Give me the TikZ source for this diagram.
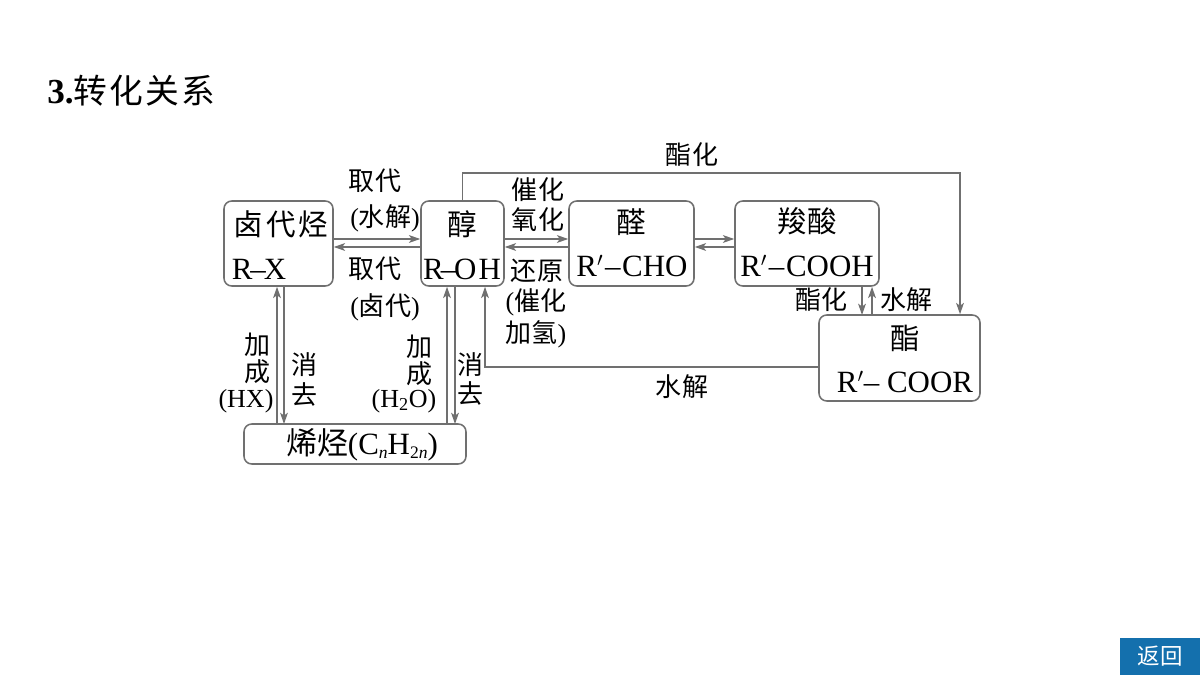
\documentclass[tikz,border=0pt]{standalone}
\usepackage{fontspec}
\usepackage{xcolor}
\setmainfont{Liberation Serif}
\newfontfamily\cjk{Noto Sans CJK SC}
\usetikzlibrary{arrows.meta, positioning, calc}
\definecolor{LineGray}{HTML}{707070}
\definecolor{BackBlue}{HTML}{1470AD}
\newcommand{\lowidx}[1]{\raisebox{-3pt}{\fontsize{12.5}{12.5}\selectfont #1}}
\newcommand{\rprime}{R$'${\kern1.2pt}–{\kern1.2pt}}
\tikzset{
    chembox/.style={rectangle, rounded corners=5.5pt, draw=LineGray, line width=1.1pt, inner sep=0pt},
    boxname/.style={font=\fontsize{21}{21}\selectfont\cjk, inner sep=0pt},
    boxformula/.style={font=\fontsize{22}{22}\selectfont, inner sep=0pt},
    steplabel/.style={font=\fontsize{18.5}{18.5}\selectfont\cjk, inner sep=0pt},
    parenlabel/.style={font=\fontsize{18.5}{18.5}\selectfont, inner sep=0pt},
    linkarrow/.style={-{Stealth[length=8pt, width=5.5pt, inset=2pt]}, LineGray, line width=1.1pt},
}
\begin{document}
\begin{tikzpicture}[x=0.025cm, y=-0.025cm]
    \useasboundingbox (0,0) rectangle (1200,675);
    \fill[white] (0,0) rectangle (1200,675);

    % title and back button
    \node[anchor=west, inner sep=0pt, font=\fontsize{24}{24}\selectfont] (title) at (47,91)
        {{\fontsize{25}{25}\selectfont\bfseries 3.}{\cjk 转\kern1.5pt 化\kern1.5pt 关\kern1.5pt 系}};
    \node[rectangle, fill=BackBlue, text=white, minimum width=80*0.025cm, minimum height=37*0.025cm, inner sep=0pt,
        font=\fontsize{16}{16}\selectfont\cjk] (back) at (1160,656.5) {返回};

    % boxes
    \node[chembox, minimum width=109*0.025cm, minimum height=85*0.025cm] (halide) at (278.5,243.5) {};
    \node[chembox, minimum width=83*0.025cm, minimum height=85*0.025cm] (alcohol) at (462.5,243.5) {};
    \node[chembox, minimum width=125*0.025cm, minimum height=85*0.025cm] (aldehyde) at (631.5,243.5) {};
    \node[chembox, minimum width=144*0.025cm, minimum height=85*0.025cm] (acid) at (807,243.5) {};
    \node[chembox, minimum width=161*0.025cm, minimum height=86*0.025cm] (ester) at (899.5,358) {};
    \node[chembox, minimum width=222*0.025cm, minimum height=40*0.025cm] (alkene) at (355,444) {};

    % box texts
    \node[boxname] (halidename) at (281,224) {卤\kern2pt 代\kern2pt 烃};
    \node[boxformula] (halideform) at (259,269) {R{\kern-1.5pt}–{\kern-1.5pt}X};
    \node[boxname] (alcoholname) at (462,224) {醇};
    \node[boxformula] (alcoholform) at (462,269) {R{\kern-2pt}–{\kern-1.5pt}O{\kern1.5pt}H};
    \node[boxname] (aldehydename) at (631,222) {醛};
    \node[boxformula] (aldehydeform) at (632,266) {\rprime CHO};
    \node[boxname] (acidname) at (807,221) {羧酸};
    \node[boxformula] (acidform) at (807,266) {\rprime COOH};
    \node[boxname] (estername) at (905,338) {酯};
    \node[boxformula] (esterform) at (905,382) {R$'$– COOR};
    \node[boxformula] (alkenename) at (362,445) {{\cjk 烯烃}(C\lowidx{\textit{n}}H\lowidx{2\textit{n}})};

    % arrows between boxes
    \draw[linkarrow] ([yshift=4.5*0.025cm]halide.east) -- ([yshift=4.5*0.025cm]alcohol.west);
    \draw[linkarrow] ([yshift=-3.5*0.025cm]alcohol.west) -- ([yshift=-3.5*0.025cm]halide.east);
    \draw[linkarrow] ([yshift=4.5*0.025cm]alcohol.east) -- ([yshift=4.5*0.025cm]aldehyde.west);
    \draw[linkarrow] ([yshift=-3.5*0.025cm]aldehyde.west) -- ([yshift=-3.5*0.025cm]alcohol.east);
    \draw[linkarrow] ([yshift=4.5*0.025cm]aldehyde.east) -- ([yshift=4.5*0.025cm]acid.west);
    \draw[linkarrow] ([yshift=-3.5*0.025cm]acid.west) -- ([yshift=-3.5*0.025cm]aldehyde.east);

    \coordinate (alkeneA) at (277,424);
    \coordinate (alkeneB) at (284,424);
    \coordinate (alkeneC) at (447,424);
    \coordinate (alkeneD) at (455,424);
    \draw[linkarrow] (alkeneA) -- (alkeneA |- halide.south);
    \draw[linkarrow] (alkeneB |- halide.south) -- (alkeneB);
    \draw[linkarrow] (alkeneC) -- (alkeneC |- alcohol.south);
    \draw[linkarrow] (alkeneD |- alcohol.south) -- (alkeneD);

    \coordinate (esterA) at (862,315);
    \coordinate (esterB) at (872,315);
    \draw[linkarrow] (esterA |- acid.south) -- (esterA);
    \draw[linkarrow] (esterB) -- (esterB |- acid.south);

    \coordinate (upper) at (462.5,173);
    \coordinate (upperright) at (960,173);
    \draw[linkarrow] (alcohol.north) -- (upper) -- (upperright) -- (upperright |- ester.north);
    \coordinate (lower) at (485,367);
    \draw[linkarrow] (lower -| ester.west) -- (lower) -- (lower |- alcohol.south);

    % step labels
    \node[steplabel] (subA) at (375,181) {取代};
    \node[parenlabel] (subB) at (385,218) {({\cjk 水解})};
    \node[steplabel] (subC) at (375,269) {取代};
    \node[parenlabel] (subD) at (385,307) {({\cjk 卤代})};
    \node[steplabel] (oxA) at (538,190) {催化};
    \node[steplabel] (oxB) at (538,220) {氧化};
    \node[steplabel] (redA) at (537,271) {还原};
    \node[parenlabel] (redB) at (536,302) {({\cjk 催化}};
    \node[parenlabel] (redC) at (536,334) {{\cjk 加氢})};
    \node[steplabel] (estA) at (692,155) {酯化};
    \node[steplabel] (estB) at (821,300) {酯化};
    \node[steplabel] (hydA) at (906,300) {水解};
    \node[steplabel] (hydB) at (682,387) {水解};
    \node[steplabel] (addA) at (258,345) {加};
    \node[steplabel] (addB) at (258,372) {成};
    \node[parenlabel] (addC) at (246,401) {(HX)};
    \node[steplabel] (elimA) at (305,365) {消};
    \node[steplabel] (elimB) at (305,394) {去};
    \node[steplabel] (addD) at (419,347) {加};
    \node[steplabel] (addE) at (419,374) {成};
    \node[parenlabel] (addF) at (404,401) {(H\textsubscript{2}O)};
    \node[steplabel] (elimC) at (470,365) {消};
    \node[steplabel] (elimD) at (470,393) {去};
\end{tikzpicture}
\end{document}
